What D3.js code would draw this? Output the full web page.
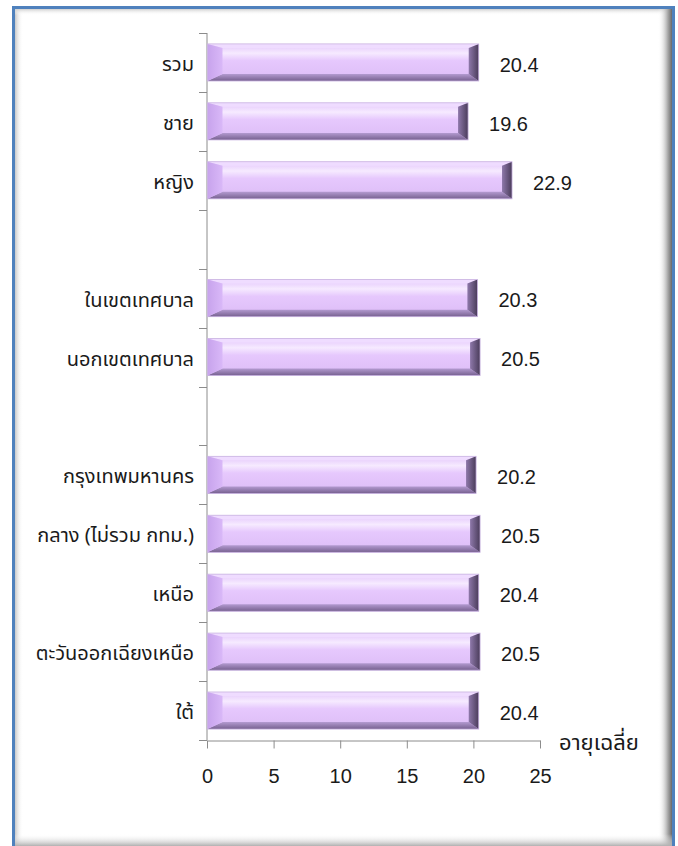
<!DOCTYPE html>
<html><head><meta charset="utf-8">
<script src="https://cdn.jsdelivr.net/npm/d3@7"></script>
<style>
html,body{margin:0;padding:0;background:#fff;}
svg{display:block;}
text{font-family:Tahoma,"Noto Sans Thai","Noto Sans","DejaVu Sans",sans-serif;fill:#1a1a1a;}
</style></head>
<body>
<script>
const categories = ["รวม","ชาย","หญิง","","ในเขตเทศบาล","นอกเขตเทศบาล","","กรุงเทพมหานคร","กลาง (ไม่รวม กทม.)","เหนือ","ตะวันออกเฉียงเหนือ","ใต้"];
const values = [20.4,19.6,22.9,null,20.3,20.5,null,20.2,20.5,20.4,20.5,20.4];
const xTicks = [0,5,10,15,20,25];
const axisTitle = "อายุเฉลี่ย";

const W = 678, H = 846;
const svg = d3.select("body").append("svg").attr("width", W).attr("height", H);
const defs = svg.append("defs");

// frame shadows
const gl = defs.append("linearGradient").attr("id","shL").attr("x1",0).attr("x2",1).attr("y1",0).attr("y2",0);
gl.append("stop").attr("offset",0).attr("stop-color","#c8c8c8");
gl.append("stop").attr("offset",1).attr("stop-color","#fff").attr("stop-opacity",0);
const gr = defs.append("linearGradient").attr("id","shR").attr("x1",1).attr("x2",0).attr("y1",0).attr("y2",0);
gr.append("stop").attr("offset",0).attr("stop-color","#6a6a6a");
gr.append("stop").attr("offset",0.3).attr("stop-color","#a8a8a8");
gr.append("stop").attr("offset",1).attr("stop-color","#fff").attr("stop-opacity",0);
const gt = defs.append("linearGradient").attr("id","shT").attr("x1",0).attr("x2",0).attr("y1",0).attr("y2",1);
gt.append("stop").attr("offset",0).attr("stop-color","#d0d0d0");
gt.append("stop").attr("offset",1).attr("stop-color","#fff").attr("stop-opacity",0);
const gb = defs.append("linearGradient").attr("id","shB").attr("x1",0).attr("x2",0).attr("y1",1).attr("y2",0);
gb.append("stop").attr("offset",0).attr("stop-color","#b0b0b0");
gb.append("stop").attr("offset",1).attr("stop-color","#fff").attr("stop-opacity",0);

// bar face gradient
const gf = defs.append("linearGradient").attr("id","face").attr("x1",0).attr("x2",0).attr("y1",0).attr("y2",1);
[[0,"#e2c4fb"],[0.25,"#f6eaff"],[0.45,"#e6c8fd"],[1,"#dcbcf6"]].forEach(s=>gf.append("stop").attr("offset",s[0]).attr("stop-color",s[1]));
const gbt = defs.append("linearGradient").attr("id","bbot").attr("x1",0).attr("x2",0).attr("y1",0).attr("y2",1);
[[0,"#b39ad0"],[1,"#76608f"]].forEach(s=>gbt.append("stop").attr("offset",s[0]).attr("stop-color",s[1]));
const gle = defs.append("linearGradient").attr("id","bleft").attr("x1",0).attr("x2",1).attr("y1",0).attr("y2",0);
[[0,"#c7a3ec"],[1,"#d9b8f8"]].forEach(s=>gle.append("stop").attr("offset",s[0]).attr("stop-color",s[1]));
const gri = defs.append("linearGradient").attr("id","bright").attr("x1",0).attr("x2",1).attr("y1",0).attr("y2",0);
[[0,"#8e78aa"],[1,"#4a3c5a"]].forEach(s=>gri.append("stop").attr("offset",s[0]).attr("stop-color",s[1]));

// frame
svg.append("rect").attr("x",15).attr("y",9).attr("width",8).attr("height",H-9).attr("fill","url(#shL)");
svg.append("rect").attr("x",15).attr("y",9).attr("width",657).attr("height",6).attr("fill","url(#shT)");
svg.append("rect").attr("x",658).attr("y",9).attr("width",14).attr("height",H-9).attr("fill","url(#shR)");
svg.append("rect").attr("x",15).attr("y",834).attr("width",657).attr("height",12).attr("fill","url(#shB)");
svg.append("path").attr("d",`M13.5,${H} V7.5 H673.5 V${H}`).attr("fill","none").attr("stroke","#4f81bd").attr("stroke-width",3);

const x = d3.scaleLinear().domain([0,25]).range([207,540]);
const y = d3.scaleBand().domain(d3.range(categories.length)).range([33,740]).paddingInner(0.37).paddingOuter(0.185);

const g = svg.append("g");

// y axis
const yAxis = d3.scaleLinear().domain([0,categories.length]).range([33,740]);
g.append("line").attr("x1",207).attr("x2",207).attr("y1",33).attr("y2",740).attr("stroke","#8c8c8c");
g.selectAll(".yt").data(d3.range(categories.length+1)).join("line")
  .attr("x1",199).attr("x2",207).attr("y1",d=>Math.round(yAxis(d))+0.5).attr("y2",d=>Math.round(yAxis(d))+0.5).attr("stroke","#8c8c8c");

// x axis
const xa = g.append("g").attr("transform","translate(0,740.5)")
  .call(d3.axisBottom(x).tickValues(xTicks).tickSize(8).tickPadding(20).tickSizeOuter(0));
xa.select(".domain").attr("stroke","#8c8c8c");
xa.selectAll(".tick line").attr("stroke","#8c8c8c");
xa.selectAll(".tick text").attr("font-size",20).attr("fill","#1a1a1a").style("font-family",'Tahoma,"Liberation Sans",sans-serif');

// bars
const data = categories.map((c,i)=>({c,i,v:values[i]})).filter(d=>d.v!=null);
const bars = g.selectAll(".bar").data(data).join("g").attr("class","bar");
bars.each(function(d){
  const s = d3.select(this);
  const x0 = x(0)+0.5, x1 = x(d.v), y0 = y(d.i), y1 = y(d.i)+y.bandwidth();
  const bt=4, bb=7, bwl=15, bwr=10;
  s.append("rect").attr("x",x0).attr("y",y0).attr("width",x1-x0).attr("height",y1-y0).attr("fill","url(#face)");
  s.append("path").attr("d",`M${x0},${y0}L${x1},${y0}L${x1-bwr},${y0+bt}L${x0+bwl},${y0+bt}Z`).attr("fill","#efdcff");
  s.append("path").attr("d",`M${x0},${y1}L${x1},${y1}L${x1-bwr},${y1-bb}L${x0+bwl},${y1-bb}Z`).attr("fill","url(#bbot)");
  s.append("path").attr("d",`M${x0},${y0}L${x0+bwl},${y0+bt}L${x0+bwl},${y1-bb}L${x0},${y1}Z`).attr("fill","url(#bleft)");
  s.append("path").attr("d",`M${x1},${y0}L${x1-bwr},${y0+bt}L${x1-bwr},${y1-bb}L${x1},${y1}Z`).attr("fill","url(#bright)");
  s.append("rect").attr("x",x0).attr("y",y0).attr("width",x1-x0).attr("height",y1-y0).attr("fill","none").attr("stroke","#c9b4e0").attr("stroke-width",0.8);
});

// value labels
g.selectAll(".val").data(data).join("text")
  .attr("x",d=>x(d.v)+21).attr("y",d=>y(d.i)+y.bandwidth()/2+4)
  .attr("dominant-baseline","middle").attr("font-size",20)
  .style("font-family",'Tahoma,"Liberation Sans",sans-serif')
  .text(d=>d.v.toFixed(1));

// category labels
g.selectAll(".cat").data(categories.map((c,i)=>({c,i})).filter(d=>d.c)).join("text")
  .attr("x",194).attr("y",d=>y(d.i)+y.bandwidth()/2+3)
  .attr("text-anchor","end").attr("dominant-baseline","middle").attr("font-size",20)
  .text(d=>d.c);

// axis title
g.append("text").attr("x",559).attr("y",744).attr("dominant-baseline","middle")
  .attr("font-size",22).text(axisTitle);
</script>
</body></html>
